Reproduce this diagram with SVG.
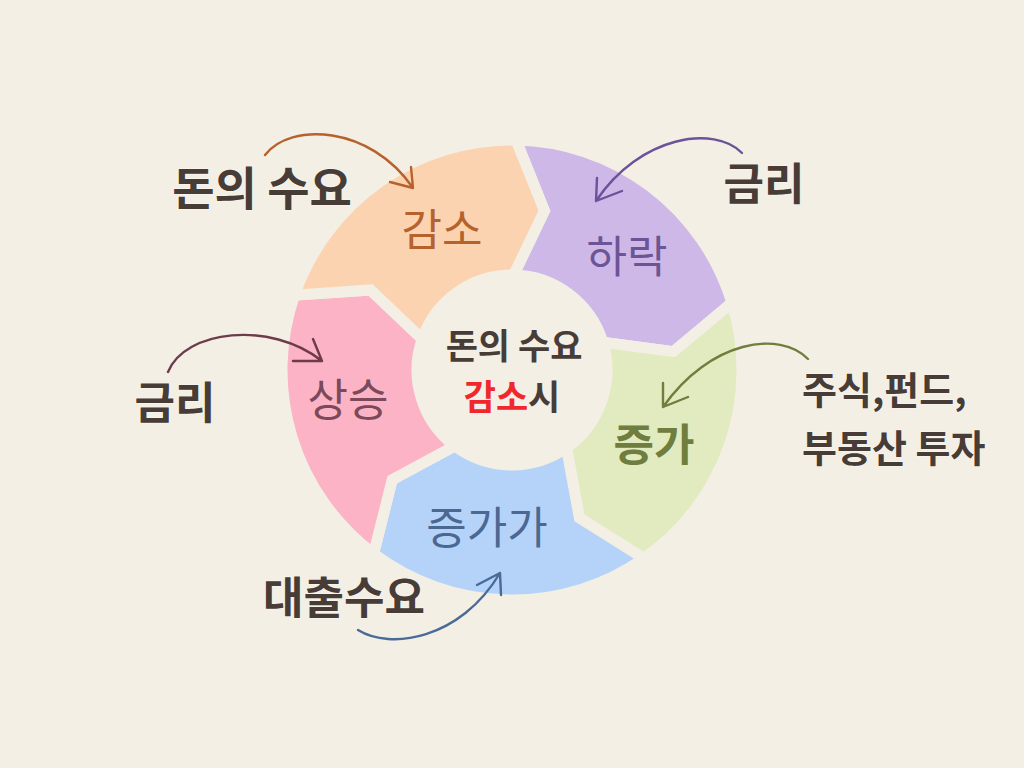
<svg xmlns="http://www.w3.org/2000/svg" width="1024" height="768" viewBox="0 0 1024 768">
<style>
.seg{stroke:#F3EFE5;stroke-width:11;stroke-linejoin:miter}
.lbl{font-family:"Noto Sans CJK KR","Noto Sans",sans-serif;font-size:44px;text-anchor:middle}
.out{font-family:"Noto Sans CJK KR","Noto Sans",sans-serif;font-weight:700;fill:#483C37;stroke:#ffffff;stroke-opacity:0.35;stroke-width:1.5;paint-order:stroke}
.ctr{font-family:"Noto Sans CJK KR","Noto Sans",sans-serif;font-weight:700;font-size:35px;fill:#483C37;text-anchor:middle}
.arr{fill:none;stroke-width:2.4;stroke-linecap:round;stroke-linejoin:round}
</style>
<rect width="1024" height="768" fill="#F3EFE5"/>
<g id="seg-purple">
<path class="seg" fill="#CDB8E8" d="M516.01,140.04 A230,230 0 0 1 731.95,302.75 L673.46,351.60 L602.85,342.22 A95,95 0 0 0 513.66,275.01 L544.40,210.76 Z"/>
<text class="lbl" x="627" y="273" fill="#6C5596">하락</text>
</g>
<g id="seg-green">
<path class="seg" fill="#E1EBBF" d="M731.95,302.75 A230,230 0 0 1 643.92,558.40 L579.39,517.87 L566.49,447.82 A95,95 0 0 0 602.85,342.22 L673.46,351.60 Z"/>
<text class="lbl" x="654" y="461" fill="#6F7E3E" font-weight="700">증가</text>
</g>
<g id="seg-blue">
<path class="seg" fill="#B5D3F9" d="M643.92,558.40 A230,230 0 0 1 373.58,553.69 L392.19,479.78 L454.83,445.87 A95,95 0 0 0 566.49,447.82 L579.39,517.87 Z"/>
<text class="lbl" x="487" y="544" fill="#4B6892">증가가</text>
</g>
<g id="seg-pink">
<path class="seg" fill="#FBB3C5" d="M373.58,553.69 A230,230 0 0 1 294.53,295.12 L370.57,289.98 L422.18,339.07 A95,95 0 0 0 454.83,445.87 L392.19,479.78 Z"/>
<text class="lbl" x="348" y="416" fill="#7A4A5A">상승</text>
</g>
<g id="seg-orange">
<path class="seg" fill="#FCD3B1" d="M294.53,295.12 A230,230 0 0 1 516.01,140.04 L544.40,210.76 L513.66,275.01 A95,95 0 0 0 422.18,339.07 L370.57,289.98 Z"/>
<text class="lbl" x="442" y="246" fill="#B5622D">감소</text>
</g>
<g id="center">
<text class="ctr" x="514" y="359">돈의 수요</text>
<text class="ctr" x="512" y="410"><tspan fill="#F0282D">감소</tspan>시</text>
</g>
<g id="label-money-demand"><text class="out" x="262" y="205" font-size="46" text-anchor="middle">돈의 수요</text></g>
<g id="label-rate-right"><text class="out" x="764" y="200" font-size="44" text-anchor="middle">금리</text></g>
<g id="label-rate-left"><text class="out" x="175" y="419" font-size="44" text-anchor="middle">금리</text></g>
<g id="label-invest"><text class="out" x="802" y="404" font-size="38">주식,펀드,</text><text class="out" x="802" y="462" font-size="38">부동산 투자</text></g>
<g id="label-loan"><text class="out" x="344" y="614" font-size="44" text-anchor="middle">대출수요</text></g>
<g id="connectors">
<path class="arr" stroke="#B7612C" d="M265,155 C290,122 370,125 413,188 M411,167 L413,188 L390,182"/>
<path class="arr" stroke="#6B529A" d="M742,153 C715,125 640,135 596,201 M597,178 L596,201 L622,191"/>
<path class="arr" stroke="#6E7E3C" d="M808,359 C780,330 710,340 663,407 M663,383 L663,407 L688,397"/>
<path class="arr" stroke="#4A6A97" d="M358,630 C390,650 460,640 500,573 M501,595 L500,573 L477,585"/>
<path class="arr" stroke="#6E3B4C" d="M168,372 C185,330 270,320 322,361 M313,339 L322,361 L293,361"/>
</g>
</svg>
